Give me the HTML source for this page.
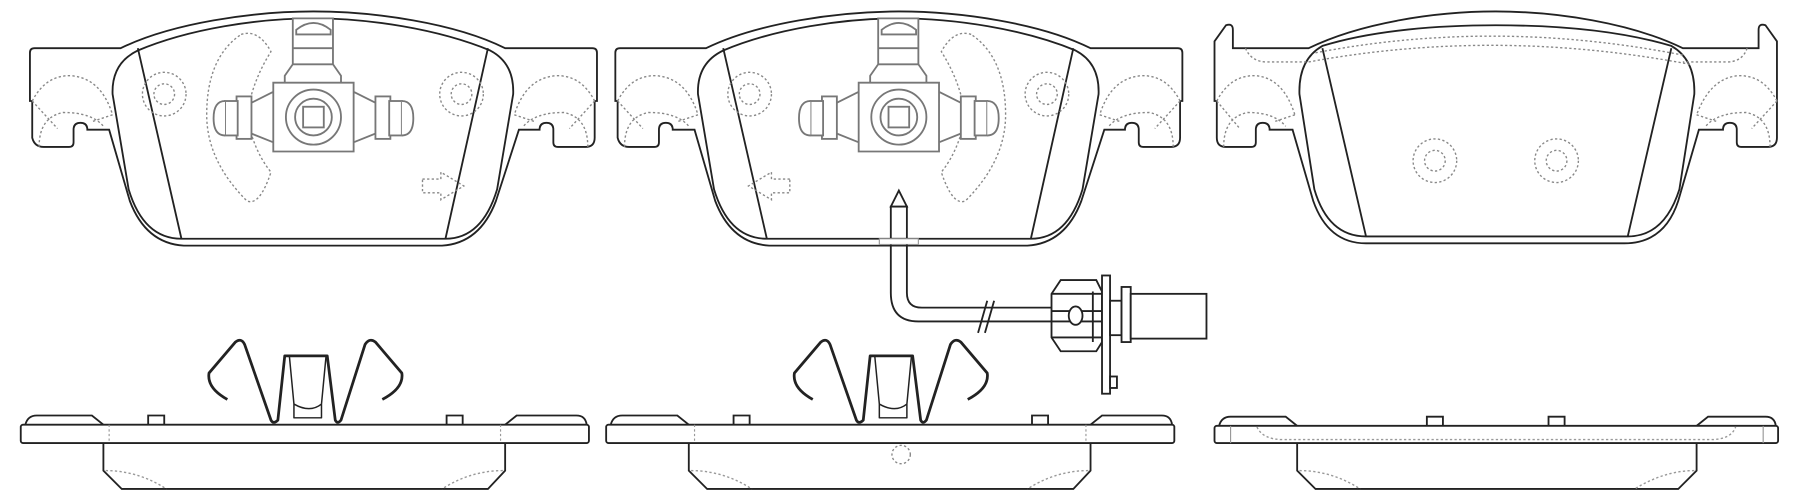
<!DOCTYPE html>
<html><head><meta charset="utf-8"><style>html,body{margin:0;padding:0;background:#fff}svg{display:block}</style></head>
<body>
<svg width="1800" height="500" viewBox="0 0 1568 435.6" xmlns="http://www.w3.org/2000/svg">
<defs>
<g id="outline" fill="none" stroke="#222" stroke-width="1.6">
<path d="M30,42 H105 C150,20 220,10 273,10 C326,10 396,20 440,42 H516 Q520,42 520,46 V88 H518 V120 Q518,128 510,128 H486 Q482,128 482,124 V113 Q482,107 476,107 Q470,107 470,113 H452 L432,175 Q418,212 385,214 H160 Q127,212 113,175 L95,113 H76 Q76,107 70,107 Q64,107 64,113 V124 Q64,128 60,128 H38 Q30,128 28,120 V88 H26 V46 Q26,42 30,42 Z"/>
<path d="M120,44 C165,25 225,16 273,16 C321,16 381,25 427,44 Q448,55 447,82 L433,165 Q420,208 388,208 H158 Q125,208 112,165 L98,82 Q97,55 120,44 Z"/>
<path d="M120,42 L158,208 M425,42 L388,208"/>
</g>
<g id="ears" fill="none" stroke="#888" stroke-width="1.2" stroke-dasharray="2,2">
<path d="M28,88 Q40,65 62,66 Q88,68 98,100"/><path d="M34,128 Q34,102 55,98 Q80,98 90,110"/><path d="M28,88 L50,112 M98,100 L80,106"/>
<path d="M518,88 Q506,65 484,66 Q458,68 448,100"/><path d="M512,128 Q512,102 491,98 Q466,98 456,110"/><path d="M518,88 L496,112 M448,100 L466,106"/>
</g>
<g id="holes" fill="none" stroke="#888" stroke-width="1.2" stroke-dasharray="2,2">
<circle cx="143" cy="82" r="19"/><circle cx="143" cy="82" r="9"/>
<circle cx="402" cy="82" r="19"/><circle cx="402" cy="82" r="9"/>
</g>
<g id="sensor" fill="#fff" stroke="#777" stroke-width="1.6">
<path d="M255,16 H290 V56 H255 Z M258,26 Q273,14 288,26 V30 H258 Z M255,42 H290 M248,72 V66 L255,56 H290 L297,66 V72"/>
<path d="M238,72 H308 V132 H238 Z M238,80 L218,90 V116 L238,124 M308,80 L328,90 V116 L308,124"/>
<rect x="206" y="84" width="13" height="37"/><rect x="196" y="88" width="11" height="30"/>
<path d="M196,88 Q186,88 186,103 Q186,118 196,118"/>
<rect x="327" y="84" width="13" height="37"/><rect x="339" y="88" width="11" height="30"/>
<path d="M350,88 Q360,88 360,103 Q360,118 350,118"/>
<circle cx="273" cy="102" r="24"/><circle cx="273" cy="102" r="16"/><rect x="264" y="93" width="18" height="18"/>
</g>
<g id="side" fill="none" stroke="#222" stroke-width="1.6">
<rect x="18" y="370" width="495" height="16" rx="2"/>
<path d="M22,370 Q24,362 32,362 H80 L90,370 M440,370 L450,362 H502 Q510,362 511,370"/>
<path d="M129,370 V362 H143 V370 M389,370 V362 H403 V370"/>
<path d="M90,386 V410 L106,426 H425 L440,410 V386"/>
<path d="M95,370 V386 M436,370 V386" stroke="#999" stroke-width="1" stroke-dasharray="2,2"/>
<path d="M92,410 Q120,410 145,426 M438,410 Q410,410 385,426" stroke="#999" stroke-width="1.2" stroke-dasharray="2,2"/>
</g>
<g id="clip" fill="none" stroke="#222" stroke-width="2.4" stroke-linejoin="round">
<path d="M198,348 Q180,338 182,325 L205,298 Q210,294 213,300 L236,366 Q238,370 242,366 L248,310 H285 L292,366 Q294,370 297,366 L318,300 Q322,294 327,298 L350,325 Q352,338 333,348"/>
<path d="M252,310 L256,352 Q270,360 280,352 L284,310 M256,352 V364 H280 V352" stroke-width="1.3"/>
</g>
</defs>

<!-- Pad 1 -->
<use href="#outline"/><use href="#ears"/><use href="#holes"/>
<path d="M210,30 Q225,25 236,45 Q220,70 215,100 Q220,130 236,150 Q226,180 215,175 Q180,140 180,100 Q180,50 210,30 Z" fill="none" stroke="#888" stroke-width="1.2" stroke-dasharray="2,2"/>
<use href="#sensor"/>
<path d="M368,156 H384 V150 L404,162 L384,174 V168 H368 Z" fill="none" stroke="#888" stroke-width="1.2" stroke-dasharray="2,2"/>
<use href="#side"/><use href="#clip"/>

<!-- Pad 2 -->
<g transform="translate(510,0)">
<use href="#outline"/><use href="#ears"/><use href="#holes"/>
<path d="M336,30 Q321,25 310,45 Q326,70 331,100 Q326,130 310,150 Q320,180 331,175 Q366,140 366,100 Q366,50 336,30 Z" fill="none" stroke="#888" stroke-width="1.2" stroke-dasharray="2,2"/>
<use href="#sensor"/>
<path d="M178,156 H162 V150 L142,162 L162,174 V168 H178 Z" fill="none" stroke="#888" stroke-width="1.2" stroke-dasharray="2,2"/>
<use href="#side"/><use href="#clip"/>
<circle cx="275" cy="396" r="8" fill="none" stroke="#888" stroke-width="1.2" stroke-dasharray="2,2"/>
</g>

<!-- Wear sensor -->
<g fill="#fff" stroke="#222" stroke-width="1.6">
<path d="M776,180 L783,166 L790,180 Z"/>
<rect x="776" y="180" width="14" height="28"/>
<rect x="766" y="208" width="34" height="5" stroke="#999" stroke-width="1"/>
<path d="M776,213 V255 Q776,280 800,280 H916 M790,213 V255 Q790,268 803,268 H916" fill="none"/>
<path d="M852,290 L860,262 M858,290 L866,262" fill="none"/>
<path d="M924,244 H955 L960,254 V298 L955,306 H924 L916,294 V256 Z"/>
<path d="M916,256 H960 M916,294 H960 M916,271 H960 M916,280 H960 M952,254 V298" fill="none"/>
<ellipse cx="937" cy="275" rx="6" ry="8"/>
<rect x="960" y="240" width="7" height="103"/>
<rect x="967" y="328" width="6" height="10"/>
<rect x="967" y="262" width="10" height="30"/>
<rect x="977" y="250" width="8" height="48"/>
<rect x="985" y="256" width="66" height="39"/>
</g>

<!-- Pad 3 -->
<g fill="none" stroke="#222" stroke-width="1.6">
<path d="M1074,42 H1140 C1185,20 1250,10 1303,10 C1356,10 1421,20 1466,42 H1532 V26 Q1532,20 1538,22 L1548,36 V120 Q1548,128 1540,128 H1517 Q1513,128 1513,124 V113 Q1513,107 1507,107 Q1501,107 1501,113 H1480 L1462,175 Q1450,212 1415,212 H1190 Q1157,212 1144,175 L1126,113 H1106 Q1106,107 1100,107 Q1094,107 1094,113 V124 Q1094,128 1090,128 H1068 Q1060,128 1060,120 V88 H1058 V36 L1068,22 Q1074,20 1074,26 Z"/>
<path d="M1152,40 C1197,26 1255,22 1303,22 C1351,22 1409,26 1456,40 Q1477,52 1476,82 L1463,165 Q1450,206 1418,206 H1190 Q1157,206 1145,165 L1132,82 Q1131,52 1152,40 Z"/>
<path d="M1152,42 L1190,206 M1456,42 L1418,206"/>
</g>
<g fill="none" stroke="#888" stroke-width="1.2" stroke-dasharray="2,2">
<path d="M1146,46 Q1303,16 1466,48 M1140,54 Q1303,24 1472,56"/>
<path d="M1085,42 Q1090,54 1104,54 H1140 M1522,42 Q1518,54 1504,54 H1466"/>
<path d="M1060,88 Q1072,65 1094,66 Q1118,68 1128,100"/><path d="M1066,128 Q1066,102 1087,98 Q1110,98 1120,110"/><path d="M1060,88 L1080,112 M1128,100 L1110,106"/>
<path d="M1548,88 Q1536,65 1514,66 Q1490,68 1478,100"/><path d="M1542,128 Q1542,102 1521,98 Q1496,98 1486,110"/><path d="M1548,88 L1526,112 M1478,100 L1496,106"/>
<circle cx="1250" cy="140" r="19"/><circle cx="1250" cy="140" r="9"/>
<circle cx="1356" cy="140" r="19"/><circle cx="1356" cy="140" r="9"/>
</g>
<g fill="none" stroke="#222" stroke-width="1.6">
<rect x="1058" y="371" width="491" height="15" rx="2"/>
<path d="M1062,371 Q1064,363 1072,363 H1120 L1130,371 M1478,371 L1488,363 H1538 Q1546,363 1547,371"/>
<path d="M1243,371 V363 H1257 V371 M1349,371 V363 H1363 V371"/>
<path d="M1130,386 V410 L1146,426 H1462 L1478,410 V386"/>
<path d="M1072,371 V386 M1536,371 V386" stroke="#999" stroke-width="1"/>
<path d="M1095,372 Q1100,383 1118,383 H1490 Q1508,383 1512,372 M1132,410 Q1160,410 1185,426 M1476,410 Q1450,410 1424,426" stroke="#999" stroke-width="1.2" stroke-dasharray="2,2"/>
</g>
</svg>
</body></html>
